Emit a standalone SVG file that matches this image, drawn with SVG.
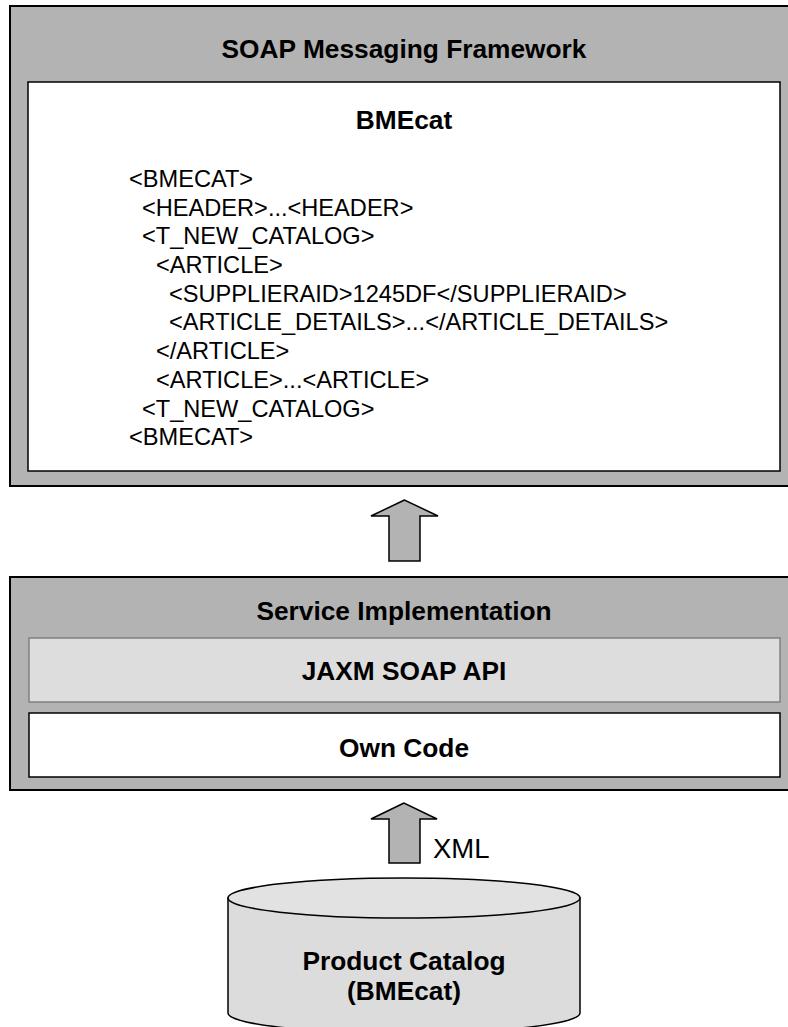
<svg xmlns="http://www.w3.org/2000/svg" width="788" height="1027" viewBox="0 0 788 1027">
<style>
.t{font-family:"Liberation Sans",Arial,sans-serif;font-weight:bold;font-size:26.3px;text-anchor:middle;fill:#000}
.c{font-family:"Liberation Sans",Arial,sans-serif;font-size:23.6px;fill:#000}
.x{font-family:"Liberation Sans",Arial,sans-serif;font-size:27.5px;fill:#000}
.outer{fill:#b3b3b3;stroke:#000;stroke-width:2}
.white{fill:#fff;stroke:#000;stroke-width:1.5}
.arrow{fill:#b3b3b3;stroke:#000;stroke-width:1.5;stroke-linejoin:miter}
</style>
<rect width="788" height="1027" fill="#fff"/>
<g id="soap-framework">
<rect class="outer" x="10" y="6" width="782" height="480"/>
<text class="t" x="404" y="58">SOAP Messaging Framework</text>
</g>
<g id="bmecat">
<rect class="white" x="28" y="82" width="752" height="389"/>
<text class="t" x="404" y="129">BMEcat</text>
<text class="c" x="129" y="187">&lt;BMECAT&gt;</text>
<text class="c" x="142" y="215.7">&lt;HEADER&gt;...&lt;HEADER&gt;</text>
<text class="c" x="142" y="244.4">&lt;T_NEW_CATALOG&gt;</text>
<text class="c" x="156" y="273">&lt;ARTICLE&gt;</text>
<text class="c" x="169" y="301.7">&lt;SUPPLIERAID&gt;1245DF&lt;/SUPPLIERAID&gt;</text>
<text class="c" x="169" y="330.4">&lt;ARTICLE_DETAILS&gt;...&lt;/ARTICLE_DETAILS&gt;</text>
<text class="c" x="156" y="359">&lt;/ARTICLE&gt;</text>
<text class="c" x="156" y="387.8">&lt;ARTICLE&gt;...&lt;ARTICLE&gt;</text>
<text class="c" x="142" y="416.5">&lt;T_NEW_CATALOG&gt;</text>
<text class="c" x="129" y="445.2">&lt;BMECAT&gt;</text>
</g>
<g id="service-implementation">
<rect class="outer" x="10" y="577" width="782" height="213"/>
<text class="t" x="404" y="620">Service Implementation</text>
</g>
<g id="jaxm">
<rect x="29" y="638" width="751" height="64" fill="#dddddd" stroke="#808080" stroke-width="1.5"/>
<text class="t" x="404" y="680">JAXM SOAP API</text>
</g>
<g id="own-code">
<rect class="white" x="29" y="713" width="751" height="64"/>
<text class="t" x="404" y="757">Own Code</text>
</g>
<g id="product-catalog">
<path d="M228,898 L228,1013 A176,20 0 0 0 580,1013 L580,898 Z" fill="#dcdcdc" stroke="#000" stroke-width="1.5"/>
<ellipse cx="404" cy="898" rx="176" ry="20" fill="#e2e2e2" stroke="#000" stroke-width="1.5"/>
<text class="t" x="404" y="970">Product Catalog</text>
<text class="t" x="404" y="1000">(BMEcat)</text>
</g>
<g id="connectors">
<polygon class="arrow" points="404.5,500 371,516 389,516 389,561 420,561 420,516 438,516"/>
<polygon class="arrow" points="404,803 371,819 389,819 389,863 420,863 420,819 437,819"/>
<text class="x" x="433" y="858">XML</text>
</g>
</svg>
